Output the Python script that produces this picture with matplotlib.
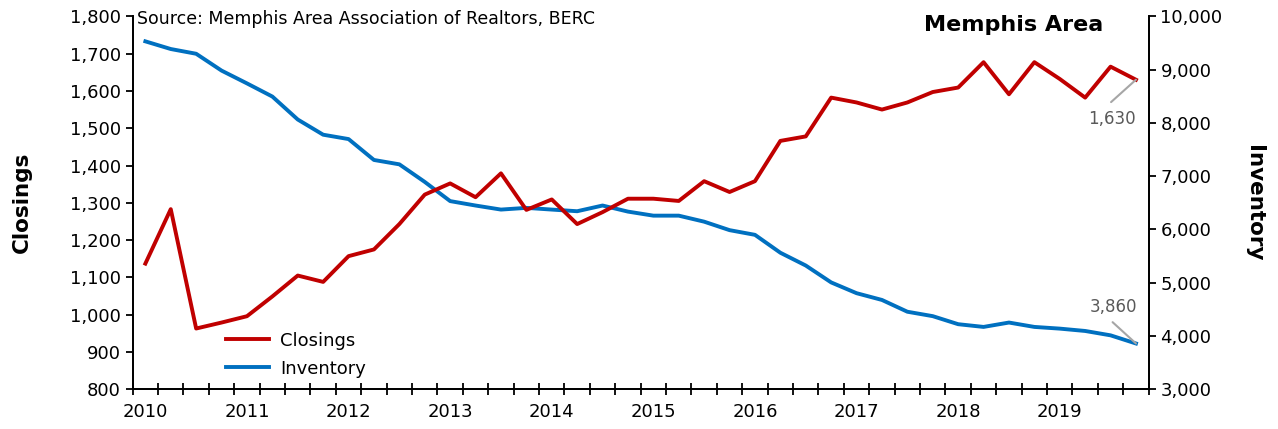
import matplotlib
matplotlib.use("Agg")
import matplotlib.pyplot as plt
from matplotlib.ticker import FuncFormatter
import numpy as np

# quarterly data, 2010 Q1 .. 2019 Q4
years = list(range(2010, 2020))
closings = [1137, 1283, 963, 979, 996, 1049, 1105, 1088, 1157, 1175,
            1243, 1322, 1352, 1315, 1379, 1281, 1309, 1243, 1275, 1311,
            1311, 1305, 1358, 1329, 1358, 1466, 1478, 1582, 1569, 1550,
            1569, 1597, 1609, 1677, 1591, 1677, 1632, 1582, 1665, 1630]
inventory = [9530, 9386, 9297, 8981, 8741, 8494, 8063, 7778, 7696, 7304,
             7222, 6892, 6532, 6449, 6373, 6405, 6373, 6342, 6449, 6335,
             6259, 6259, 6146, 5987, 5899, 5563, 5323, 5006, 4804, 4677,
             4456, 4373, 4222, 4171, 4253, 4171, 4139, 4095, 4013, 3860]

RED = '#C00000'
BLUE = '#0070C0'
FONT = 'DejaVu Sans'
plt.rcParams['font.family'] = FONT

fig = plt.figure(figsize=(12.78, 4.29), dpi=100)
ax = fig.add_axes([0.1038, 0.0925, 0.795, 0.8695])
ax2 = ax.twinx()

x = np.arange(len(closings)) + 0.5
ax.plot(x, closings, color=RED, lw=2.8, label='Closings', zorder=3)
ax2.plot(x, inventory, color=BLUE, lw=2.8, label='Inventory', zorder=2)
ax.set_zorder(ax2.get_zorder() + 1)
ax.patch.set_visible(False)

ax.set_xlim(0, len(closings))
ax.set_ylim(800, 1800)
ax2.set_ylim(3000, 10000)
ax.set_yticks(np.arange(800, 1801, 100))
ax2.set_yticks(np.arange(3000, 10001, 1000))
fmt = FuncFormatter(lambda v, p: f'{int(v):,}')
ax.yaxis.set_major_formatter(fmt)
ax2.yaxis.set_major_formatter(fmt)

ax.set_xticks(np.arange(0, len(closings) + 1))
ax.set_xticklabels([])
ax.set_xticks([4 * i + 0.5 for i in range(len(years))], minor=True)
ax.set_xticklabels([str(y) for y in years], minor=True)
ax.tick_params(axis='x', which='major', direction='inout', length=9, width=1.3)
ax.tick_params(axis='x', which='minor', length=0, labelsize=13, pad=10)
ax.tick_params(axis='y', direction='out', length=5, width=1.3, labelsize=13)
ax2.tick_params(axis='y', direction='out', length=5, width=1.3, labelsize=13)

for a in (ax, ax2):
    a.spines['top'].set_visible(False)
    for s in ('left', 'right', 'bottom'):
        a.spines[s].set_linewidth(1.3)

ax.set_ylabel('Closings', fontsize=15.5, fontweight='bold', labelpad=27)
ax2.set_ylabel('Inventory', fontsize=15.5, fontweight='bold', rotation=-90, labelpad=30)

# legend
h1, l1 = ax.get_legend_handles_labels()
h2, l2 = ax2.get_legend_handles_labels()
ax.legend(h1 + h2, l1 + l2, loc='lower left', bbox_to_anchor=(0.076, -0.012),
          frameon=False, fontsize=13, handlelength=2.4, handletextpad=0.6,
          labelspacing=0.55)

# texts
ax.text(0.004, 0.993, 'Source: Memphis Area Association of Realtors, BERC',
        transform=ax.transAxes, ha='left', va='center', fontsize=12.5)
ax.text(0.955, 0.977, 'Memphis Area', transform=ax.transAxes, ha='right',
        va='center', fontsize=16, fontweight='bold')

# end labels with leader lines
lead = dict(arrowstyle='-', color='#A6A6A6', lw=1.5, shrinkA=0, shrinkB=0)
ax.annotate('', xy=(x[-1], closings[-1]), xytext=(x[-1] - 0.98, closings[-1] - 60),
            arrowprops=lead)
ax.text(x[-1] - 0.95, closings[-1] - 104, f'{closings[-1]:,}', ha='center',
        va='center', fontsize=12, color='#595959')
ax2.annotate('', xy=(x[-1], inventory[-1]), xytext=(x[-1] - 0.92, inventory[-1] + 400),
             arrowprops=lead)
ax2.text(x[-1] - 0.9, inventory[-1] + 680, f'{inventory[-1]:,}', ha='center',
         va='center', fontsize=12, color='#595959')

fig.savefig('out.png', dpi=100)
